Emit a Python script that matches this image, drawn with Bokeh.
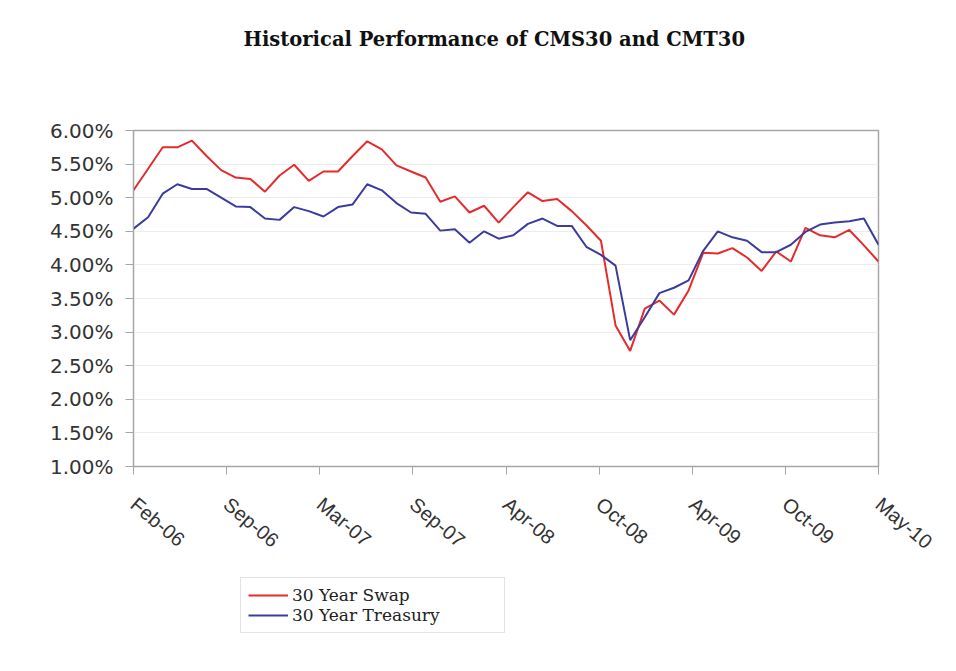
from bokeh.plotting import figure
from bokeh.layouts import column
from bokeh.models import (FixedTicker, PrintfTickFormatter, Legend, LegendItem,
                          Range1d, Title, ColumnDataSource)
from bokeh.embed import file_html
from bokeh.resources import INLINE

# Monthly observations, Feb-06 .. May-10 (52 months)
month_index = list(range(52))

swap_30y = [5.11, 5.43, 5.75, 5.75, 5.85, 5.62, 5.41, 5.30, 5.28, 5.09,
            5.33, 5.49, 5.25, 5.39, 5.39, 5.62, 5.84, 5.72, 5.48, 5.39,
            5.30, 4.94, 5.02, 4.78, 4.88, 4.63, 4.86, 5.08, 4.95, 4.98,
            4.80, 4.59, 4.36, 3.10, 2.72, 3.35, 3.47, 3.26, 3.62, 4.18,
            4.17, 4.25, 4.11, 3.91, 4.20, 4.05, 4.55, 4.44, 4.41, 4.52,
            4.29, 4.05]

treasury_30y = [4.54, 4.71, 5.06, 5.20, 5.13, 5.13, 5.00, 4.87, 4.86, 4.69,
                4.67, 4.86, 4.80, 4.72, 4.86, 4.90, 5.20, 5.11, 4.92, 4.78,
                4.76, 4.51, 4.53, 4.33, 4.50, 4.39, 4.44, 4.61, 4.69, 4.58,
                4.58, 4.27, 4.15, 3.99, 2.88, 3.22, 3.58, 3.66, 3.77, 4.21,
                4.50, 4.41, 4.36, 4.19, 4.19, 4.30, 4.49, 4.60, 4.63, 4.65,
                4.69, 4.30]

x_tick_labels = ["Feb-06", "Sep-06", "Mar-07", "Sep-07", "Apr-08",
                 "Oct-08", "Apr-09", "Oct-09", "May-10"]
y_ticks = [1.0, 1.5, 2.0, 2.5, 3.0, 3.5, 4.0, 4.5, 5.0, 5.5, 6.0]

series_names = ["30 Year Swap", "30 Year Treasury"]
series_colors = ["#e52b2b", "#3c3c9e"]

source = ColumnDataSource(dict(x=month_index, swap=swap_30y, tsy=treasury_30y))

n_last = month_index[-1]
p = figure(frame_width=745, frame_height=336,
           x_range=Range1d(month_index[0], n_last),
           y_range=Range1d(y_ticks[0], y_ticks[-1]),
           output_backend="svg", toolbar_location=None,
           min_border_left=133, min_border_right=62,
           min_border_top=130, min_border_bottom=110)
p.title = None

# titles: spacer nearest to frame, then the real title
p.add_layout(Title(text=" ", text_font_size="56px"), "above")
p.add_layout(Title(text="Historical Performance of CMS30 and CMT30",
                   align="left", offset=110, text_font="DejaVu Serif",
                   text_font_style="bold", text_font_size="19.5px",
                   text_color="#111111"), "above")

p.line("x", "swap", source=source, color=series_colors[0], line_width=2)
p.line("x", "tsy", source=source, color=series_colors[1], line_width=2)

# x axis
step = (n_last - month_index[0]) / (len(x_tick_labels) - 1)
xt = [month_index[0] + i * step for i in range(len(x_tick_labels))]
xt = [int(t) if float(t).is_integer() else t for t in xt]
p.xaxis.ticker = FixedTicker(ticks=xt)
p.xaxis.major_label_overrides = {t: lab for t, lab in zip(xt, x_tick_labels)}
p.xaxis.major_label_orientation = -0.7
p.xaxis.major_label_text_font = "Liberation Sans"
p.xaxis.major_label_text_font_size = "20px"
p.xaxis.major_label_text_color = "#333333"
p.xaxis.major_label_standoff = 27
p.xaxis.axis_line_color = "#a6a6a6"
p.xaxis.major_tick_line_color = "#a6a6a6"
p.xaxis.major_tick_out = 8
p.xaxis.major_tick_in = 0
p.xaxis.minor_tick_line_color = None

# y axis
p.yaxis.ticker = FixedTicker(ticks=y_ticks)
p.yaxis.formatter = PrintfTickFormatter(format="%.2f%%")
p.yaxis.major_label_text_font = "DejaVu Sans"
p.yaxis.major_label_text_font_size = "20px"
p.yaxis.major_label_text_color = "#333333"
p.yaxis.major_label_standoff = 12
p.yaxis.axis_line_color = "#a6a6a6"
p.yaxis.major_tick_line_color = "#a6a6a6"
p.yaxis.major_tick_out = 8
p.yaxis.major_tick_in = 0
p.yaxis.minor_tick_line_color = None

p.xgrid.grid_line_color = None
p.ygrid.grid_line_color = "#ececec"
p.outline_line_color = "#a6a6a6"
p.outline_line_width = 1.5
p.background_fill_color = "white"
p.border_fill_color = "white"

# legend strip below the chart (its renderers lie outside its visible range,
# so only the legend itself shows)
p2 = figure(width=940, height=95, x_range=Range1d(-20, -19), y_range=Range1d(0, 1),
            x_axis_type=None, y_axis_type=None,
            output_backend="svg", toolbar_location=None,
            min_border=0, min_border_left=0, min_border_right=0,
            min_border_top=0, min_border_bottom=0)
p2.outline_line_color = None
p2.xgrid.grid_line_color = None
p2.ygrid.grid_line_color = None
p2.title = None
l1 = p2.line("x", "swap", source=source, color=series_colors[0], line_width=2)
l2 = p2.line("x", "tsy", source=source, color=series_colors[1], line_width=2)

legend = Legend(items=[LegendItem(label=series_names[0], renderers=[l1]),
                       LegendItem(label=series_names[1], renderers=[l2])],
                location=(107, 38), padding=7, spacing=0, margin=0,
                glyph_width=40, glyph_height=18, label_height=18,
                label_width=205, label_standoff=4,
                label_text_font="DejaVu Serif", label_text_font_size="17px",
                label_text_color="#222222",
                border_line_color="#c8c8c8", border_line_width=1,
                background_fill_color="white", background_fill_alpha=1)
p2.add_layout(legend)

open("out.html", "w").write(file_html(column(p, p2, spacing=0), INLINE))
